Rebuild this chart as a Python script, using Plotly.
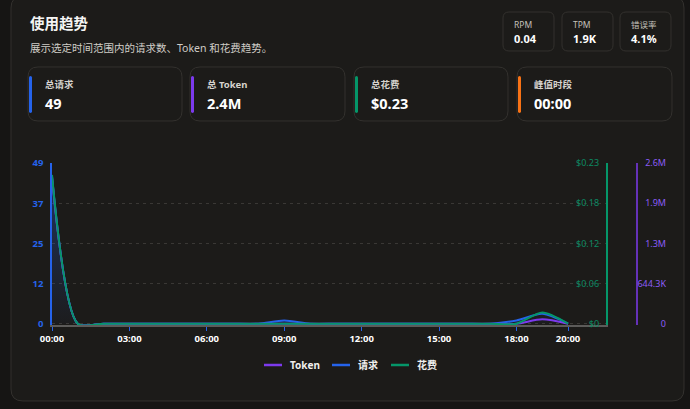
import plotly.graph_objects as go

W, H = 690, 409

# ---------------- data ----------------
hours = [f"{h:02d}:00" for h in range(21)]
requests = [45, 0, 0, 0, 0, 0, 0, 0, 0, 1, 0, 0, 0, 0, 0, 0, 0, 0, 1, 3, 0]
tokens = [2350000, 0, 0, 0, 0, 0, 0, 0, 0, 0, 0, 0, 0, 0, 0, 0, 0, 0, 0, 70000, 0]
cost = [0.213, 0, 0, 0, 0, 0, 0, 0, 0, 0, 0, 0, 0, 0, 0, 0, 0, 0, 0, 0.016, 0]

x_tickvals = ["00:00", "03:00", "06:00", "09:00", "12:00", "15:00", "18:00", "20:00"]
req_tickvals = [0, 12.25, 24.5, 36.75, 49]
req_ticktext = ["0", "12", "25", "37", "49"]
cost_tickvals = [0, 0.0575, 0.115, 0.1725, 0.23]
cost_ticktext = ["$0", "$0.06", "$0.12", "$0.18", "$0.23"]
token_tickvals = [0, 644300, 1288600, 1932900, 2577200]
token_ticktext = ["0", "644.3K", "1.3M", "1.9M", "2.6M"]

series_names = ["Token", "请求", "花费"]

title_text = "使用趋势"
subtitle_text = "展示选定时间范围内的请求数、Token 和花费趋势。"
stat_labels = ["RPM", "TPM", "错误率"]
stat_values = ["0.04", "1.9K", "4.1%"]
card_labels = ["总请求", "总 Token", "总花费", "峰值时段"]
card_values = ["49", "2.4M", "$0.23", "00:00"]

# ---------------- styles ----------------
BLUE = "#2563eb"
PURPLE = "#7c3aed"
GREEN = "#059669"
ORANGE = "#f97316"
card_colors = [BLUE, PURPLE, GREEN, ORANGE]
BG_OUT = "#161514"
BG_CARD = "#1c1b19"
BORDER = "#33312e"
FONT = "Noto Sans, Noto Sans CJK SC, sans-serif"
SMOOTH = 0.75

PLOT_TOP, PLOT_BOT = 163, 325
PAD_PX = 1.3          # lift zero line slightly above the axis baseline
PAD_FRAC = PAD_PX / (PLOT_BOT - PLOT_TOP)


def lo(top):
    return -top * PAD_FRAC


def px(x):
    return x / W


def py(y):
    return 1 - y / H


def rrect(x0, y0, x1, y1, r):
    def p(x, y):
        return f"{px(x):.5f},{py(y):.5f}"
    return (f"M {p(x0 + r, y0)} L {p(x1 - r, y0)} Q {p(x1, y0)} {p(x1, y0 + r)} "
            f"L {p(x1, y1 - r)} Q {p(x1, y1)} {p(x1 - r, y1)} "
            f"L {p(x0 + r, y1)} Q {p(x0, y1)} {p(x0, y1 - r)} "
            f"L {p(x0, y0 + r)} Q {p(x0, y0)} {p(x0 + r, y0)} Z")


shapes = []
annotations = []

# main card
shapes.append(dict(type="path", xref="paper", yref="paper", layer="below",
                   path=rrect(11, -4, 684, 401, 12), fillcolor=BG_CARD,
                   line=dict(color=BORDER, width=1)))

annotations.append(dict(x=px(28), y=py(23), xref="paper", yref="paper", xanchor="left",
                        yanchor="middle", showarrow=False, text=f"<b>{title_text}</b>",
                        font=dict(size=14.5, color="#f5f5f4", family=FONT)))
annotations.append(dict(x=px(28), y=py(48), xref="paper", yref="paper", xanchor="left",
                        yanchor="middle", showarrow=False, text=subtitle_text,
                        font=dict(size=10.5, color="#d0cdc7", family=FONT)))

# stat boxes
stat_x = [503, 562, 620]
for i in range(3):
    x0 = stat_x[i]
    shapes.append(dict(type="path", xref="paper", yref="paper", layer="below",
                       path=rrect(x0, 12, x0 + 51, 51, 6), fillcolor=BG_CARD,
                       line=dict(color=BORDER, width=1)))
    annotations.append(dict(x=px(x0 + 9), y=py(24.5), xref="paper", yref="paper",
                            xanchor="left", yanchor="middle", showarrow=False,
                            text=stat_labels[i],
                            font=dict(size=8.5, color="#c4c1bb", family=FONT)))
    annotations.append(dict(x=px(x0 + 9), y=py(38.5), xref="paper", yref="paper",
                            xanchor="left", yanchor="middle", showarrow=False,
                            text=f"<b>{stat_values[i]}</b>",
                            font=dict(size=11, color="#ffffff", family=FONT)))

# summary cards
card_x = [(28, 182), (190, 345), (354, 508), (517, 672)]
for i, (x0, x1) in enumerate(card_x):
    shapes.append(dict(type="path", xref="paper", yref="paper", layer="below",
                       path=rrect(x0, 67, x1, 121, 10), fillcolor=BG_CARD,
                       line=dict(color=BORDER, width=1)))
    shapes.append(dict(type="path", xref="paper", yref="paper", layer="above",
                       path=rrect(x0 + 1, 76, x0 + 4, 113, 1.5), fillcolor=card_colors[i],
                       line=dict(width=0)))
    annotations.append(dict(x=px(x0 + 15), y=py(84), xref="paper", yref="paper",
                            xanchor="left", yanchor="middle", showarrow=False,
                            text=f"<b>{card_labels[i]}</b>",
                            font=dict(size=9.5, color="#d6d3ce", family=FONT)))
    annotations.append(dict(x=px(x0 + 15), y=py(103), xref="paper", yref="paper",
                            xanchor="left", yanchor="middle", showarrow=False,
                            text=f"<b>{card_values[i]}</b>",
                            font=dict(size=14.5, color="#ffffff", family=FONT)))

# purple token axis line
shapes.append(dict(type="line", xref="paper", yref="paper", layer="above",
                   x0=px(637), x1=px(637), y0=py(PLOT_BOT), y1=py(PLOT_TOP),
                   line=dict(color=PURPLE, width=1.5)))

# manual legend
leg_colors = [PURPLE, BLUE, GREEN]
leg_x = [264, 332, 391]
for i in range(3):
    shapes.append(dict(type="line", xref="paper", yref="paper", layer="above",
                       x0=px(leg_x[i]), x1=px(leg_x[i] + 18), y0=py(365), y1=py(365),
                       line=dict(color=leg_colors[i], width=2.5)))
    annotations.append(dict(x=px(leg_x[i] + 24), y=py(365), xref="paper", yref="paper",
                            xanchor="left", yanchor="middle", showarrow=False,
                            text=f"<b>{series_names[i]}</b>",
                            font=dict(size=10, color="#f0efed", family=FONT)))

fig = go.Figure()

fig.add_trace(go.Scatter(
    x=hours, y=requests, name=series_names[1], yaxis="y", mode="lines",
    line=dict(color=BLUE, width=2, shape="spline", smoothing=SMOOTH),
    fill="tozeroy",
    fillgradient=dict(type="vertical",
                      colorscale=[[0, "rgba(37,99,235,0.02)"], [1, "rgba(37,99,235,0.32)"]]),
    hoverinfo="skip"))
fig.add_trace(go.Scatter(
    x=hours, y=tokens, name=series_names[0], yaxis="y2", mode="lines",
    line=dict(color=PURPLE, width=2, shape="spline", smoothing=SMOOTH), hoverinfo="skip"))
fig.add_trace(go.Scatter(
    x=hours, y=cost, name=series_names[2], yaxis="y3", mode="lines",
    line=dict(color=GREEN, width=2, shape="spline", smoothing=SMOOTH), hoverinfo="skip"))

fig.update_layout(
    width=W, height=H, autosize=False,
    margin=dict(l=0, r=0, t=0, b=0, pad=0, autoexpand=False),
    paper_bgcolor=BG_OUT,
    plot_bgcolor="rgba(0,0,0,0)",
    showlegend=False,
    font=dict(family=FONT),
    shapes=shapes,
    annotations=annotations,
    xaxis=dict(
        type="category", categoryorder="array", categoryarray=hours,
        range=[0, 21.47], domain=[px(52), px(606)], anchor="y",
        showline=True, linecolor="#5c5b59", linewidth=2, layer="below traces",
        ticks="outside", ticklen=4, tickwidth=1, tickcolor=BLUE,
        tickmode="array", tickvals=x_tickvals, ticktext=x_tickvals,
        tickfont=dict(size=9.5, color="#ffffff", family=FONT, weight="bold"),
        showgrid=False, zeroline=False, fixedrange=True, automargin=False,
    ),
    yaxis=dict(
        domain=[py(PLOT_BOT), py(PLOT_TOP)], range=[lo(49), 49], anchor="x",
        showline=True, linecolor=BLUE, linewidth=1.5,
        tickmode="array", tickvals=req_tickvals, ticktext=req_ticktext,
        tickfont=dict(size=9.5, color=BLUE, family=FONT, weight="bold"),
        ticks="", ticklabelstandoff=5,
        showgrid=True, gridcolor="#3a3835", gridwidth=1, griddash="3px,4px",
        zeroline=False, fixedrange=True, automargin=False,
    ),
    yaxis2=dict(
        overlaying="y", side="right", anchor="free", position=px(669),
        range=[lo(2577200), 2577200], showline=False, showgrid=False, zeroline=False,
        tickmode="array", tickvals=token_tickvals, ticktext=token_ticktext,
        ticklabelposition="inside", ticklabeloverflow="allow", ticks="",
        tickfont=dict(size=9, color="#8b5cf6", family=FONT),
        fixedrange=True, automargin=False,
    ),
    yaxis3=dict(
        overlaying="y", side="right", anchor="x",
        range=[lo(0.23), 0.23], showline=True, linecolor=GREEN, linewidth=1.5,
        showgrid=False, zeroline=False,
        tickmode="array", tickvals=cost_tickvals, ticktext=cost_ticktext,
        ticklabelposition="inside", ticklabeloverflow="allow", ticks="",
        ticklabelstandoff=6,
        tickfont=dict(size=9, color="#0d8a63", family=FONT),
        fixedrange=True, automargin=False,
    ),
)

fig.write_html("out.html")
